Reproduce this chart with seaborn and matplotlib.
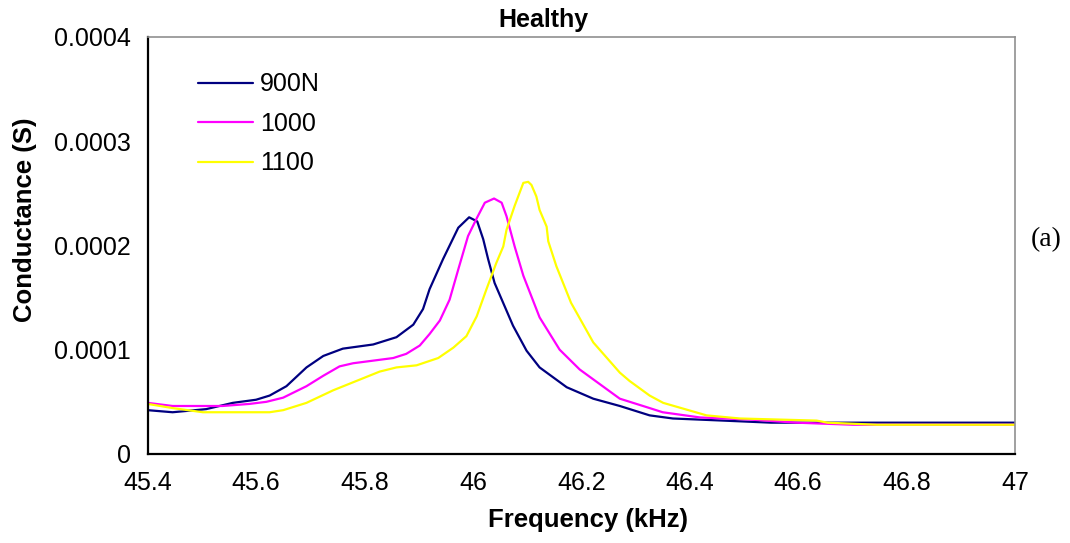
import pandas as pd
import matplotlib
matplotlib.use("Agg")
import matplotlib.pyplot as plt
import seaborn as sns

# series (frequency in kHz, conductance in S)
freq_900 = [45.40, 45.446, 45.508, 45.557, 45.60, 45.625, 45.656, 45.693, 45.724, 45.760,
            45.816, 45.859, 45.890, 45.908, 45.920, 45.945, 45.973, 45.993, 46.008, 46.019,
            46.028, 46.040, 46.074, 46.099, 46.123, 46.173, 46.222, 46.271, 46.326, 46.369,
            46.461, 46.55, 47.0]
cond_900 = [4.2e-5, 4.0e-5, 4.3e-5, 4.9e-5, 5.2e-5, 5.6e-5, 6.5e-5, 8.3e-5, 9.4e-5, 10.1e-5,
            10.5e-5, 11.2e-5, 12.4e-5, 13.9e-5, 15.8e-5, 18.7e-5, 21.7e-5, 22.7e-5, 22.3e-5, 20.6e-5,
            18.7e-5, 16.4e-5, 12.3e-5, 9.9e-5, 8.3e-5, 6.4e-5, 5.3e-5, 4.6e-5, 3.7e-5, 3.4e-5,
            3.2e-5, 3.0e-5, 3.0e-5]

freq_1000 = [45.40, 45.446, 45.538, 45.588, 45.619, 45.650, 45.693, 45.724, 45.754, 45.779,
             45.853, 45.877, 45.902, 45.920, 45.939, 45.957, 45.973, 45.991, 46.007, 46.022,
             46.039, 46.053, 46.062, 46.077, 46.093, 46.123, 46.160, 46.197, 46.234, 46.271,
             46.326, 46.350, 46.419, 46.511, 46.597, 46.701, 47.0]
cond_1000 = [4.9e-5, 4.6e-5, 4.6e-5, 4.8e-5, 5.0e-5, 5.4e-5, 6.5e-5, 7.5e-5, 8.4e-5, 8.7e-5,
             9.2e-5, 9.6e-5, 10.4e-5, 11.5e-5, 12.8e-5, 14.8e-5, 17.7e-5, 20.9e-5, 22.6e-5, 24.1e-5,
             24.5e-5, 24.1e-5, 22.8e-5, 19.9e-5, 17.1e-5, 13.1e-5, 10.0e-5, 8.1e-5, 6.7e-5, 5.3e-5,
             4.4e-5, 4.0e-5, 3.5e-5, 3.3e-5, 3.0e-5, 2.8e-5, 2.8e-5]

freq_1100 = [45.40, 45.446, 45.502, 45.625, 45.650, 45.693, 45.742, 45.785, 45.828, 45.859,
             45.896, 45.936, 45.964, 45.988, 46.007, 46.025, 46.043, 46.056, 46.062, 46.077,
             46.093, 46.102, 46.108, 46.117, 46.123, 46.136, 46.139, 46.154, 46.181, 46.222,
             46.271, 46.289, 46.326, 46.351, 46.431, 46.493, 46.634, 46.654, 46.745, 47.0]
cond_1100 = [4.8e-5, 4.4e-5, 4.0e-5, 4.0e-5, 4.2e-5, 4.9e-5, 6.1e-5, 7.0e-5, 7.9e-5, 8.3e-5,
             8.5e-5, 9.2e-5, 10.2e-5, 11.3e-5, 13.2e-5, 15.8e-5, 18.3e-5, 19.9e-5, 21.5e-5, 23.8e-5,
             26.0e-5, 26.1e-5, 25.8e-5, 24.7e-5, 23.4e-5, 21.8e-5, 20.4e-5, 18.0e-5, 14.5e-5, 10.7e-5,
             7.8e-5, 7.0e-5, 5.6e-5, 4.9e-5, 3.7e-5, 3.4e-5, 3.2e-5, 3.0e-5, 2.8e-5, 2.8e-5]

series = ["900N", "1000", "1100"]
colors = ["#000080", "#FF00FF", "#FFFF00"]
x_ticks = [45.4, 45.6, 45.8, 46.0, 46.2, 46.4, 46.6, 46.8, 47.0]
x_labels = ["45.4", "45.6", "45.8", "46", "46.2", "46.4", "46.6", "46.8", "47"]
y_ticks = [0, 0.0001, 0.0002, 0.0003, 0.0004]
y_labels = ["0", "0.0001", "0.0002", "0.0003", "0.0004"]

df = pd.concat([
    pd.DataFrame({"Frequency": freq_900, "Conductance": cond_900, "Load": series[0]}),
    pd.DataFrame({"Frequency": freq_1000, "Conductance": cond_1000, "Load": series[1]}),
    pd.DataFrame({"Frequency": freq_1100, "Conductance": cond_1100, "Load": series[2]}),
])

sns.set_style("white")
plt.rcParams["font.family"] = ["Liberation Sans", "DejaVu Sans"]
plt.rcParams["text.color"] = "black"
plt.rcParams["xtick.color"] = "black"
plt.rcParams["ytick.color"] = "black"

fig = plt.figure(figsize=(10.7, 5.43), dpi=100)
ax = fig.add_axes([0.138, 0.164, 0.8106, 0.768])

sns.lineplot(data=df, x="Frequency", y="Conductance", hue="Load",
             palette=dict(zip(series, colors)), linewidth=1.6, sort=False, ax=ax)

ax.set_xlim(45.4, 47)
ax.set_ylim(0, 0.0004)
ax.set_xticks(x_ticks)
ax.set_xticklabels(x_labels, fontsize=18)
ax.set_yticks(y_ticks)
ax.set_yticklabels(y_labels, fontsize=18)
ax.tick_params(axis="both", direction="inout", length=12, width=1.4, pad=6)
ax.set_xlabel("")
ax.set_ylabel("")

for side in ["left", "bottom"]:
    ax.spines[side].set_color("black")
    ax.spines[side].set_linewidth(1.6)
for side in ["top", "right"]:
    ax.spines[side].set_color("#909090")
    ax.spines[side].set_linewidth(1.2)

leg = ax.legend(loc="upper left", bbox_to_anchor=(0.0577, 0.915), frameon=False,
                fontsize=18, handlelength=2.2, labelspacing=0.62, handletextpad=0.3,
                borderpad=0, borderaxespad=0)
for line in leg.get_lines():
    line.set_linewidth(1.6)

fig.text(543 / 1070, 1 - 20 / 543, "Healthy", ha="center", va="center",
         fontsize=18, fontweight="bold")
fig.text(588 / 1070, 1 - 520 / 543, "Frequency (kHz)", ha="center", va="center",
         fontsize=18.5, fontweight="bold")
fig.text(25 / 1070, 1 - 220 / 543, "Conductance (S)", ha="center", va="center",
         rotation=90, fontsize=18.5, fontweight="bold")
fig.text(1046 / 1070, 1 - 240 / 543, "(a)", ha="center", va="center",
         fontsize=20, family="Liberation Serif")

fig.savefig("out.png", dpi=100)
